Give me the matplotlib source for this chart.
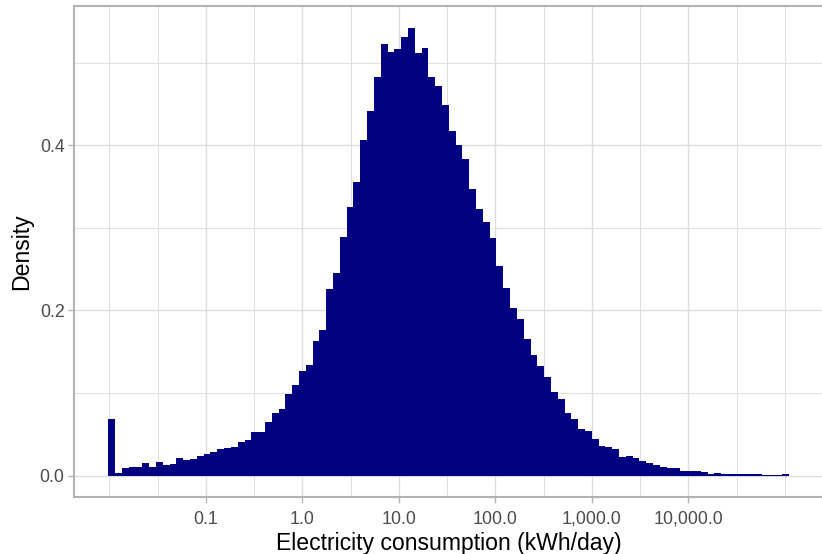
import matplotlib.pyplot as plt
from matplotlib.ticker import FixedLocator, NullFormatter
import numpy as np

plt.rcParams['font.family'] = ['Liberation Sans', 'DejaVu Sans']

# histogram of log10(kWh/day): 100 bins, density per log10 unit
bin_start = -2.0104
bin_width = 0.07055
density = [
    0.0686, 0.0030, 0.0091, 0.0103, 0.0103, 0.0151, 0.0103, 0.0163, 0.0127, 0.0139,
    0.0212, 0.0188, 0.0200, 0.0236, 0.0260, 0.0285, 0.0321, 0.0333, 0.0345, 0.0404,
    0.0428, 0.0525, 0.0525, 0.0646, 0.0755, 0.0803, 0.0985, 0.1094, 0.1263, 0.1336,
    0.1626, 0.1760, 0.2260, 0.2450, 0.2889, 0.3253, 0.3555, 0.4064, 0.4415, 0.4826,
    0.5226, 0.5129, 0.5165, 0.5311, 0.5424, 0.5117, 0.5178, 0.4826, 0.4718, 0.4488,
    0.4173, 0.4003, 0.3834, 0.3471, 0.3228, 0.3071, 0.2877, 0.2538, 0.2272, 0.2030,
    0.1897, 0.1655, 0.1461, 0.1328, 0.1195, 0.1013, 0.0928, 0.0759, 0.0686, 0.0565,
    0.0541, 0.0444, 0.0359, 0.0347, 0.0323, 0.0226, 0.0238, 0.0214, 0.0178, 0.0153,
    0.0129, 0.0105, 0.0093, 0.0093, 0.0056, 0.0056, 0.0056, 0.0044, 0.0020, 0.0032,
    0.0020, 0.0020, 0.0020, 0.0020, 0.0020, 0.0020, 0.0008, 0.0008, 0.0008, 0.0020,
]

x_ticks = [0.1, 1, 10, 100, 1000, 10000]
x_labels = ['0.1', '1.0', '10.0', '100.0', '1,000.0', '10,000.0']
y_ticks = [0.0, 0.2, 0.4]
y_labels = ['0.0', '0.2', '0.4']

edges = 10 ** (bin_start + bin_width * np.arange(len(density) + 1))

fig = plt.figure(figsize=(8.22, 5.54), dpi=100)
ax = fig.add_axes([0.0904, 0.1029, 0.9112, 0.8868])

ax.stairs(density, edges, fill=True, color='#000080', linewidth=0)

ax.set_xscale('log')
ax.set_xlim(10 ** -2.363, 10 ** 5.397)
ax.set_ylim(-0.0258, 0.569)

ax.set_xticks(x_ticks, x_labels)
ax.xaxis.set_minor_locator(FixedLocator([0.01, 1e5] + [10 ** (k + 0.5) for k in range(-2, 5)]))
ax.xaxis.set_minor_formatter(NullFormatter())
ax.set_yticks(y_ticks, y_labels)
ax.yaxis.set_minor_locator(FixedLocator([0.1, 0.3, 0.5]))

ax.grid(which='major', color='#dedede', linewidth=1.0)
ax.grid(which='minor', color='#dedede', linewidth=0.7)
ax.set_axisbelow(True)

ax.tick_params(which='major', length=4, width=1.0, color='#b3b3b3',
               labelcolor='#4d4d4d', labelsize=12.9, pad=3)
ax.tick_params(axis='x', which='major', pad=6)
ax.tick_params(which='minor', length=0)

for side in ['top', 'left', 'bottom']:
    ax.spines[side].set_color('#b3b3b3')
    ax.spines[side].set_linewidth(1.5)
ax.spines['right'].set_visible(False)

ax.set_xlabel('Electricity consumption (kWh/day)', fontsize=16.6, labelpad=3)
ax.set_ylabel('Density', fontsize=16.6, labelpad=5)

fig.savefig('out.png', dpi=100)
